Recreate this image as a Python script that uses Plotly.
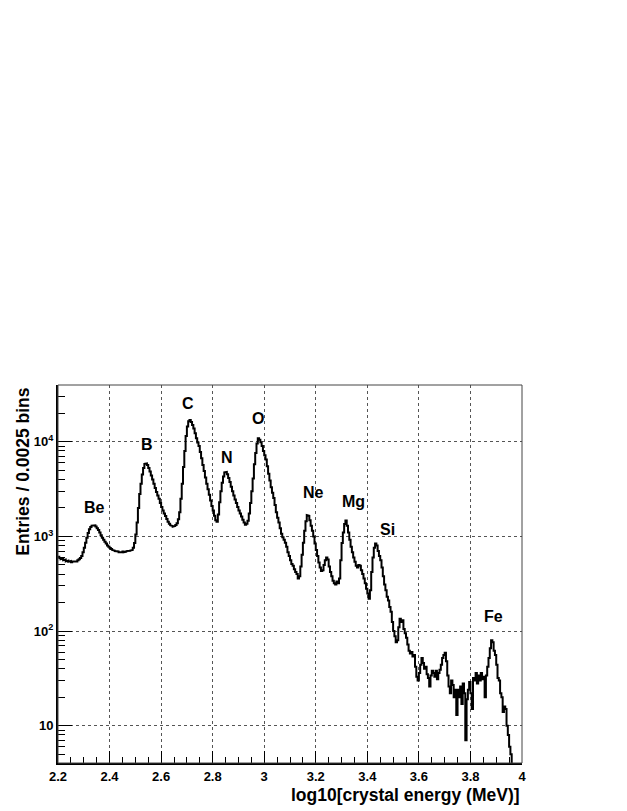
import plotly.graph_objects as go

# Histogram: log10(crystal energy / MeV), bins
bin_start = 2.2
bin_width = 0.005
entries = [
    610, 590, 575, 585, 560, 570, 545, 555, 540, 550,
    535, 545, 540, 550, 545, 560, 575, 590, 620, 680,
    760, 860, 970, 1090, 1190, 1260, 1300, 1320, 1310, 1270,
    1220, 1170, 1100, 1030, 970, 920, 880, 840, 800, 780,
    755, 735, 720, 710, 700, 690, 695, 680, 690, 685,
    695, 680, 690, 700, 695, 705, 710, 720, 760, 850,
    1050, 1400, 2000, 2800, 3600, 4500, 5300, 5850, 5900, 5700,
    5300, 4850, 4400, 4000, 3600, 3250, 2950, 2700, 2500, 2250,
    2050, 1880, 1750, 1640, 1530, 1430, 1360, 1310, 1290, 1270,
    1290, 1320, 1380, 1520, 1800, 2500, 3600, 5400, 8000, 11500,
    14500, 16500, 17000, 16200, 15000, 13800, 12300, 10900, 9800, 9000,
    7800, 6700, 5700, 4900, 4200, 3600, 3150, 2750, 2400, 2100,
    1880, 1650, 1480, 1430, 1700, 2300, 3000, 3700, 4300, 4750,
    4800, 4550, 4150, 3750, 3350, 3000, 2700, 2450, 2250, 2050,
    1880, 1750, 1620, 1500, 1400, 1330, 1360, 1460, 1750, 2250,
    3000, 4100, 5800, 7600, 9600, 10900, 10500, 9900, 9000, 8000,
    7200, 6500, 5500, 4600, 3900, 3300, 2900, 2550, 2150, 1800,
    1580, 1400, 1220, 1070, 980, 920, 860, 780, 680, 620,
    560, 510, 490, 450, 420, 400, 360, 380, 480, 640,
    860, 1150, 1450, 1680, 1650, 1480, 1300, 1150, 1000, 840,
    720, 620, 530, 470, 430, 440, 500, 560, 600, 570,
    480, 420, 380, 340, 320, 310, 335, 320, 360, 560,
    850, 1100, 1350, 1470, 1300, 1100, 920, 780, 680, 600,
    540, 490, 470, 500, 490, 440, 400, 360, 320, 280,
    250, 220, 270, 420, 600, 760, 840, 800, 700, 620,
    560, 470, 380, 310, 270, 230, 210, 180, 160, 125,
    100, 88, 76, 80, 110, 135, 125, 130, 105, 95,
    85, 72, 62, 58, 60, 54, 56, 42, 33, 30,
    36, 44, 52, 46, 40, 42, 35, 32, 26, 34,
    38, 36, 33, 38, 31, 36, 39, 44, 52, 56,
    59, 48, 34, 26, 22, 30, 27, 20, 24, 13,
    24, 20, 26, 17, 28, 22, 7, 19, 24, 29,
    22, 15, 32, 30, 36, 28, 34, 30, 36, 31,
    33, 20, 34, 42, 52, 66, 80, 76, 62, 56,
    44, 32, 30, 22, 20, 14, 16, 15, 10, 8,
    6, 5, 3, 2,
]

bin_edges = [round(bin_start + i * bin_width, 4) for i in range(len(entries) + 1)]

# Element peak labels: (name, x position, log10 y position)
element_names = ["Be", "B", "C", "N", "O", "Ne", "Mg", "Si", "Fe"]
element_x = [2.343, 2.545, 2.704, 2.856, 2.976, 3.193, 3.348, 3.480, 3.891]
element_logy = [3.31, 3.976, 4.408, 3.839, 4.25, 3.459, 3.364, 3.069, 2.151]

x_tick_vals = [2.2, 2.4, 2.6, 2.8, 3.0, 3.2, 3.4, 3.6, 3.8, 4.0]
x_tick_text = ["2.2", "2.4", "2.6", "2.8", "3", "3.2", "3.4", "3.6", "3.8", "4"]
y_tick_vals = [10, 100, 1000, 10000]
y_tick_text = ["10", "10<sup>2</sup>", "10<sup>3</sup>", "10<sup>4</sup>"]
y_minor_vals = [5, 6, 7, 8, 9, 20, 30, 40, 50, 60, 70, 80, 90,
                200, 300, 400, 500, 600, 700, 800, 900,
                2000, 3000, 4000, 5000, 6000, 7000, 8000, 9000, 20000, 30000]

FONT = "Liberation Sans, Arial, Helvetica, sans-serif"

step_x = []
step_y = []
for i, v in enumerate(entries):
    step_x += [bin_edges[i], bin_edges[i + 1]]
    step_y += [v, v]

fig = go.Figure()
fig.add_trace(go.Scatter(
    x=step_x, y=step_y, mode="lines",
    line=dict(color="black", width=2),
    showlegend=False, hoverinfo="skip",
))

for name, ex, ey in zip(element_names, element_x, element_logy):
    fig.add_annotation(
        x=ex, y=ey, xref="x", yref="y", text="<b>%s</b>" % name,
        showarrow=False, font=dict(family=FONT, size=16, color="black"),
    )

fig.add_annotation(
    x=1.0, y=-0.085, xref="paper", yref="paper", xanchor="right", yanchor="middle",
    text="<b>log10[crystal energy (MeV)]</b>", showarrow=False,
    font=dict(family=FONT, size=17.5, color="black"),
)
fig.add_annotation(
    x=-0.077, y=1.0, xref="paper", yref="paper", xanchor="center", yanchor="top",
    text="<b>Entries / 0.0025 bins</b>", showarrow=False, textangle=-90,
    font=dict(family=FONT, size=17.5, color="black"),
)

# the page body has an 8px margin, so the figure is 8px smaller and offset
fig.update_layout(
    width=619, height=803,
    margin=dict(l=50, r=105, t=377, b=48),
    paper_bgcolor="white", plot_bgcolor="white",
    font=dict(family=FONT, color="black"),
)
fig.update_xaxes(
    range=[2.2, 4.0], tickvals=x_tick_vals, ticktext=x_tick_text,
    ticks="inside", ticklen=12, tickwidth=1, tickcolor="black",
    tickfont=dict(family=FONT, size=13, color="black", weight="bold"),
    showgrid=True, gridcolor="#555555", griddash="dot", gridwidth=1,
    showline=True, linecolor="black", linewidth=2, mirror=False,
    minor=dict(ticks="inside", ticklen=6, dtick=0.05, tickcolor="black", showgrid=False),
    zeroline=False,
)
fig.update_yaxes(
    type="log", range=[0.606, 4.6], tickvals=y_tick_vals, ticktext=y_tick_text,
    ticks="inside", ticklen=14, tickwidth=1, tickcolor="black",
    tickfont=dict(family=FONT, size=13, color="black", weight="bold"),
    showgrid=True, gridcolor="#555555", griddash="dot", gridwidth=1,
    showline=True, linecolor="black", linewidth=2, mirror=False,
    minor=dict(ticks="inside", ticklen=7, tickcolor="black", showgrid=False,
               tickmode="array", tickvals=y_minor_vals),
    zeroline=False,
)
# thin frame on top and right
fig.add_shape(type="rect", xref="paper", yref="paper", x0=0, y0=0, x1=1, y1=1,
              line=dict(color="#444444", width=1), layer="above")

fig.write_html("out.html")
